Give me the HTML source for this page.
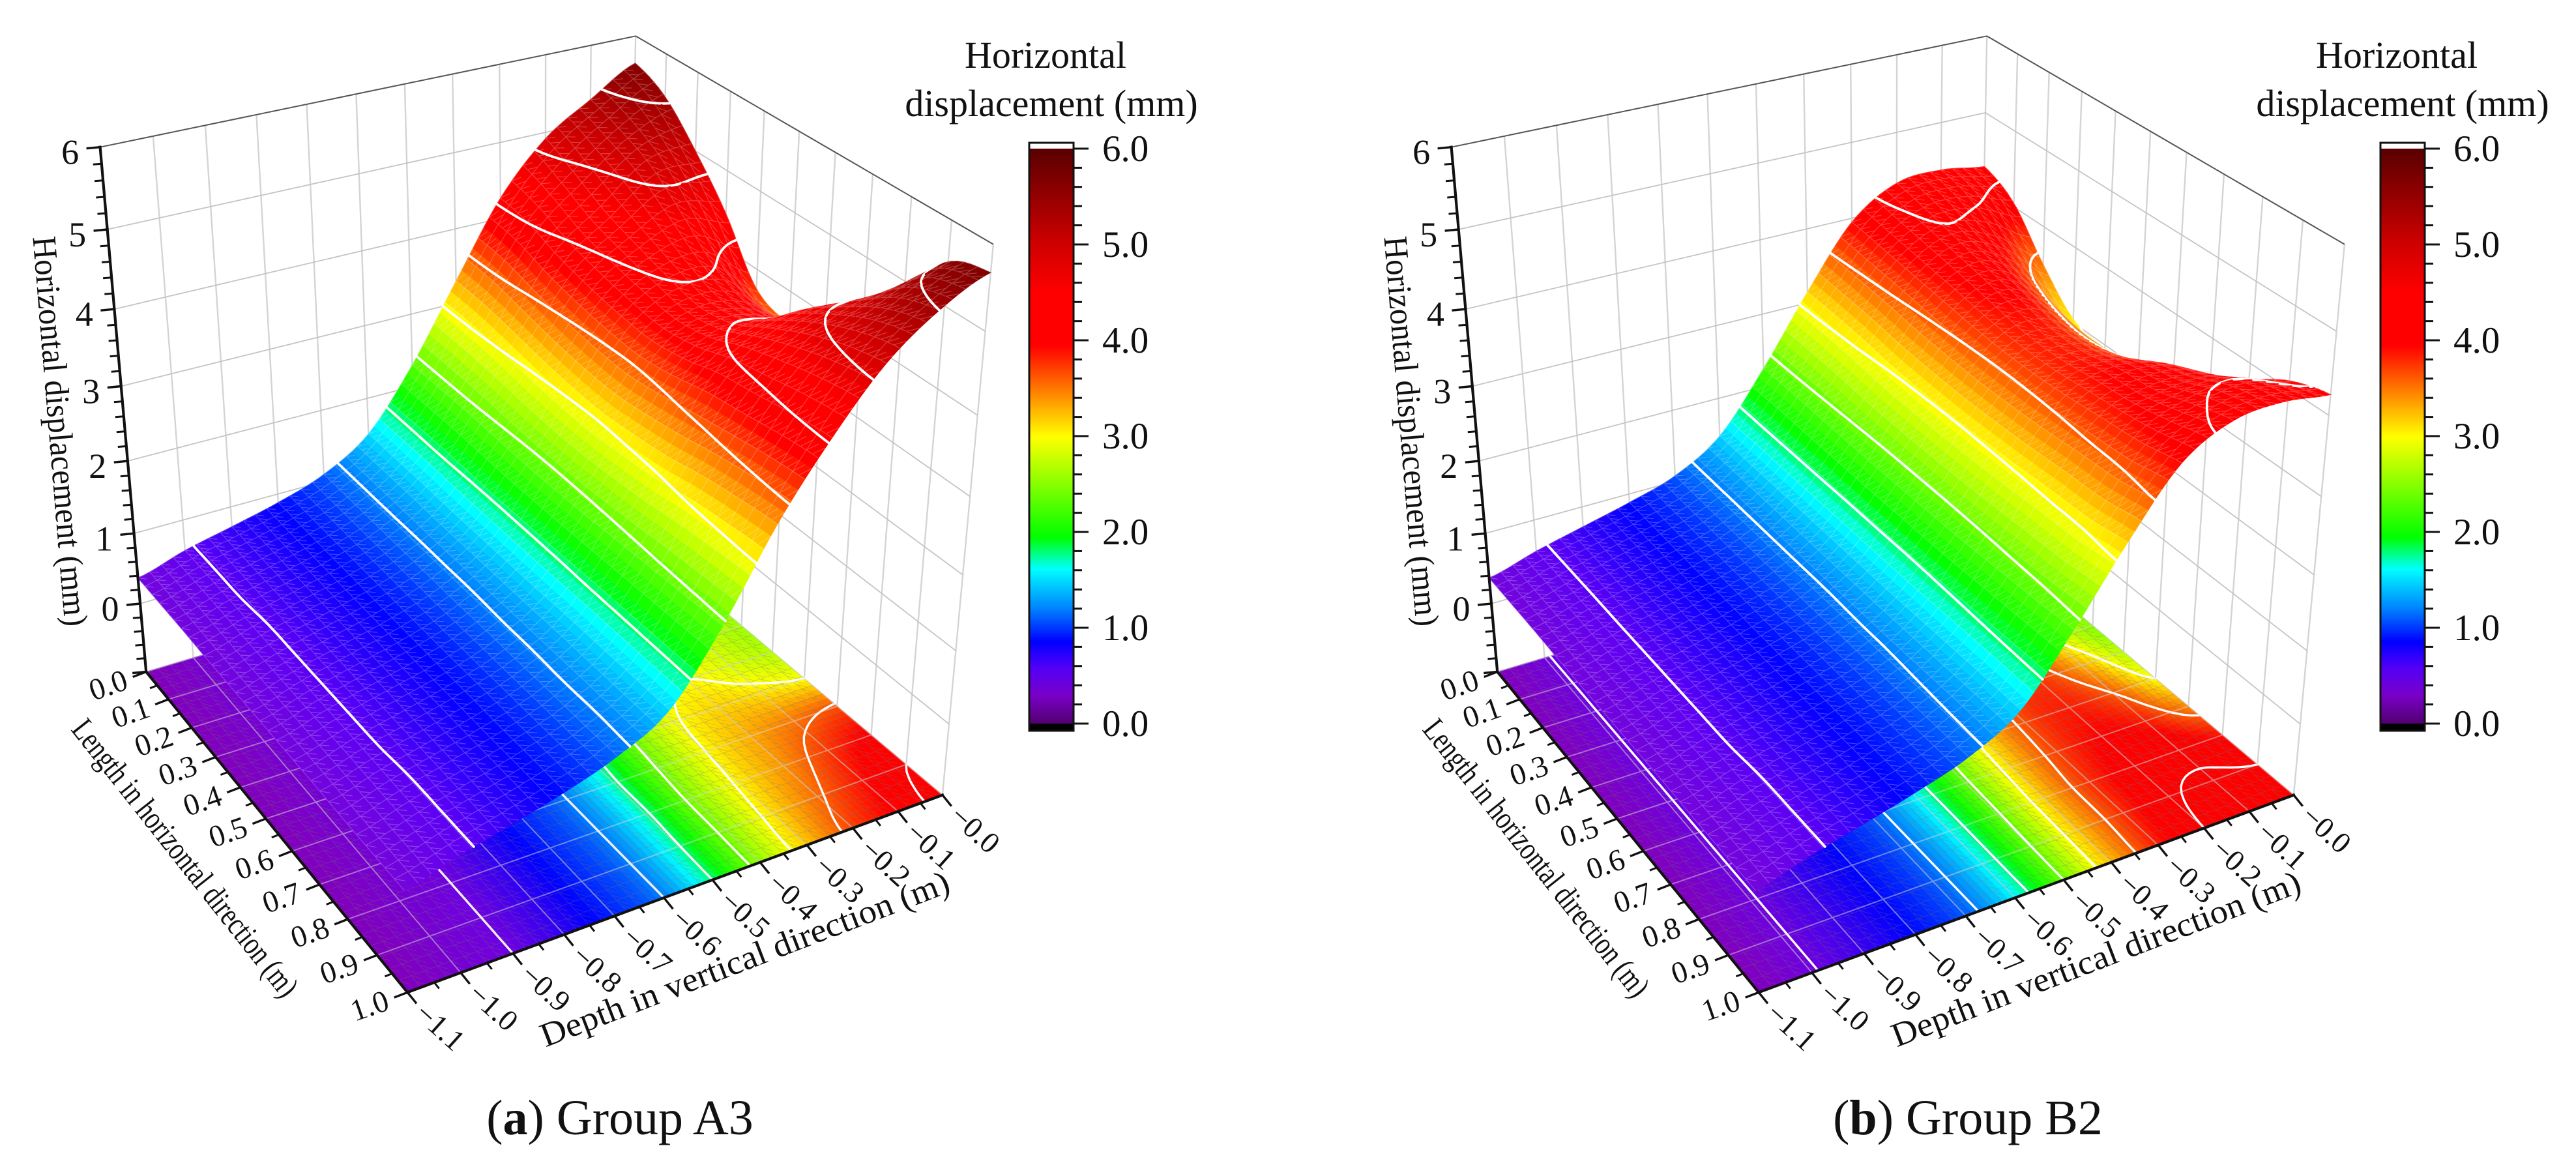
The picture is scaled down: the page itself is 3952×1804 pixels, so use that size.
<!DOCTYPE html>
<html>
<head>
<meta charset="utf-8">
<title>Horizontal displacement surfaces</title>
<style>
html,body{margin:0;padding:0;background:#fff;}
svg{display:block;}
text{font-family:"Liberation Serif",serif;fill:#111;}
</style>
</head>
<body>
<svg id="figure" xmlns="http://www.w3.org/2000/svg" width="3952" height="1804" viewBox="0 0 3952 1804">
  <rect width="3952" height="1804" fill="#fff"/>
  <g id="panelA">
    <text transform="translate(75,663) rotate(85.3)" text-anchor="middle" font-size="52" textLength="600" lengthAdjust="spacingAndGlyphs">Horizontal displacement (mm)</text>
    <text transform="translate(283,1317) rotate(51.7)" text-anchor="middle" font-size="50" textLength="527" lengthAdjust="spacingAndGlyphs" dy="15">Length in horizontal direction (m)</text>
    <text transform="translate(1143,1472) rotate(-21)" text-anchor="middle" font-size="52" textLength="668" lengthAdjust="spacingAndGlyphs" dy="16">Depth in vertical direction (m)</text>
    <text x="1604" y="104" text-anchor="middle" font-size="58">Horizontal</text>
    <text x="1613" y="178" text-anchor="middle" font-size="58">displacement (mm)</text>
    <text x="951" y="1740" text-anchor="middle" font-size="76">(<tspan font-weight="bold">a</tspan>) Group A3</text>
  </g>
  <g id="panelB" transform="translate(2073,0)">
    <text transform="translate(75,663) rotate(85.3)" text-anchor="middle" font-size="52" textLength="600" lengthAdjust="spacingAndGlyphs">Horizontal displacement (mm)</text>
    <text transform="translate(283,1317) rotate(51.7)" text-anchor="middle" font-size="50" textLength="527" lengthAdjust="spacingAndGlyphs" dy="15">Length in horizontal direction (m)</text>
    <text transform="translate(1143,1472) rotate(-21)" text-anchor="middle" font-size="52" textLength="668" lengthAdjust="spacingAndGlyphs" dy="16">Depth in vertical direction (m)</text>
    <text x="1604" y="104" text-anchor="middle" font-size="58">Horizontal</text>
    <text x="1613" y="178" text-anchor="middle" font-size="58">displacement (mm)</text>
    <text x="946" y="1740" text-anchor="middle" font-size="76">(<tspan font-weight="bold">b</tspan>) Group B2</text>
  </g>
</svg>
<script>
// Axis categories
const lengthTicks = [0,0.1,0.2,0.3,0.4,0.5,0.6,0.7,0.8,0.9,1.0];
const depthTicks = [-1.1,-1.0,-0.9,-0.8,-0.7,-0.6,-0.5,-0.4,-0.3,-0.2,-0.1,0];
const zTicks = [0,1,2,3,4,5,6];
const colorbarTicks = [0,1,2,3,4,5,6];
const contourLevels = [0.6,1.2,1.8,2.4,3.0,3.6,4.2,4.8,5.4];

// Surface heights (mm): one row per length tick, one column per depth tick
const surfaceA = [
[.37,.57,.72,.88,1.10,1.50,2.30,3.30,4.27,4.92,5.30,5.65],
[.37,.57,.72,.88,1.10,1.50,2.30,3.28,4.20,4.72,5.15,5.45],
[.37,.57,.72,.88,1.10,1.50,2.30,3.22,4.05,4.50,4.95,5.00],
[.36,.56,.72,.88,1.10,1.49,2.28,3.15,3.95,4.35,4.60,4.45],
[.36,.56,.72,.88,1.10,1.49,2.26,3.10,3.88,4.22,4.22,3.75],
[.36,.56,.72,.88,1.10,1.49,2.26,3.08,3.85,4.12,4.02,3.60],
[.36,.56,.72,.88,1.11,1.49,2.27,3.12,3.92,4.20,4.10,3.80],
[.36,.56,.72,.89,1.11,1.50,2.29,3.18,4.05,4.45,4.55,4.20],
[.35,.55,.72,.89,1.12,1.50,2.31,3.28,4.12,4.68,4.92,4.90],
[.35,.55,.72,.90,1.12,1.50,2.33,3.35,4.20,4.85,5.25,5.52],
[.35,.55,.72,.90,1.13,1.50,2.35,3.40,4.25,4.95,5.40,5.68]];
const floorA = [
[.33,.48,.60,.75,.95,1.20,1.70,2.30,2.75,2.85,2.75,2.60],
[.33,.48,.60,.75,.95,1.20,1.70,2.30,2.75,2.85,2.75,2.60],
[.33,.48,.60,.75,.95,1.20,1.70,2.30,2.75,2.85,2.75,2.60],
[.33,.48,.60,.75,.95,1.20,1.70,2.30,2.75,2.85,2.75,2.60],
[.33,.48,.60,.75,.95,1.20,1.70,2.30,2.80,2.95,2.80,2.60],
[.33,.48,.60,.75,.95,1.20,1.70,2.35,2.85,3.00,2.85,2.70],
[.33,.48,.60,.75,.95,1.20,1.70,2.40,2.95,3.15,3.10,3.00],
[.33,.48,.60,.75,.95,1.20,1.75,2.45,3.00,3.30,3.50,3.65],
[.33,.48,.60,.75,.95,1.20,1.75,2.50,3.05,3.40,3.75,4.00],
[.33,.48,.60,.75,.95,1.20,1.78,2.52,3.12,3.55,3.90,4.20],
[.33,.48,.60,.75,.95,1.20,1.80,2.55,3.20,3.70,4.00,4.30]];
const surfaceB = [
[.37,.56,.72,.88,1.08,1.47,2.25,3.15,3.95,4.33,4.37,4.28],
[.37,.56,.72,.88,1.08,1.47,2.25,3.13,3.90,4.25,4.25,4.05],
[.37,.56,.72,.88,1.08,1.47,2.24,3.10,3.85,4.15,3.95,3.50],
[.36,.56,.72,.88,1.08,1.47,2.23,3.05,3.80,4.05,3.70,3.05],
[.36,.56,.72,.88,1.08,1.47,2.22,3.03,3.75,3.95,3.55,2.95],
[.36,.56,.72,.88,1.08,1.47,2.22,3.02,3.72,3.85,3.50,3.00],
[.36,.56,.72,.88,1.09,1.47,2.22,3.03,3.72,3.85,3.60,3.20],
[.36,.56,.72,.89,1.09,1.48,2.23,3.05,3.75,3.95,3.85,3.50],
[.35,.55,.72,.89,1.10,1.49,2.25,3.08,3.80,4.00,4.02,3.80],
[.35,.55,.72,.90,1.11,1.50,2.27,3.10,3.85,4.15,4.25,4.10],
[.35,.55,.72,.90,1.12,1.50,2.30,3.18,3.95,4.28,4.33,4.25]];
const floorB = [
[.35,.58,.72,.88,1.10,1.60,2.25,3.00,3.55,3.40,2.90,2.60],
[.35,.58,.72,.88,1.10,1.60,2.25,3.00,3.55,3.40,2.90,2.60],
[.35,.58,.72,.88,1.10,1.60,2.25,3.00,3.55,3.40,2.90,2.60],
[.35,.58,.72,.88,1.10,1.60,2.25,3.00,3.55,3.40,2.90,2.60],
[.35,.58,.72,.88,1.10,1.60,2.25,3.00,3.60,3.60,3.00,2.50],
[.35,.58,.72,.88,1.10,1.60,2.28,3.05,3.65,3.75,3.30,2.70],
[.35,.58,.72,.88,1.10,1.60,2.30,3.10,3.68,3.85,3.60,3.00],
[.35,.58,.72,.88,1.10,1.60,2.33,3.15,3.72,3.95,3.85,3.45],
[.35,.58,.72,.88,1.10,1.60,2.35,3.20,3.78,4.05,4.10,3.90],
[.35,.58,.72,.88,1.10,1.60,2.38,3.22,3.80,4.15,4.25,4.20],
[.35,.58,.72,.88,1.10,1.60,2.40,3.25,3.85,4.20,4.35,4.40]];

// Colour scale stops (value, r, g, b)
const colorStops = [[0,80,0,110],[.3,120,6,215],[.6,92,0,244],[.86,0,0,255],[1.2,0,128,255],[1.62,0,255,255],[1.95,0,255,0],[3.0,255,255,0],[3.95,255,0,0],[4.5,255,0,0],[5.0,208,0,0],[6.0,90,0,0]];
const floorStops = [[0,80,0,110],[.3,132,0,184],[.6,110,0,225],[.86,0,0,255],[1.2,0,128,255],[1.62,0,255,255],[1.95,0,255,0],[3.0,255,255,0],[3.95,255,0,0],[4.5,255,0,0],[5.0,208,0,0],[6.0,90,0,0]];
const barStops = [[0,80,0,110],[.3,122,0,200],[.6,80,0,248],[.86,0,0,255],[1.2,0,128,255],[1.62,0,255,255],[1.95,0,255,0],[3.0,255,255,0],[3.95,255,0,0],[4.5,255,0,0],[5.0,208,0,0],[6.0,90,0,0]];

// Camera calibration: frame corners [length, depth, height] -> screen
const frameCorners = [
[0,-1.1,6,155,227],[0,0,6,973,53],[1,0,6,1525,376],
[0,-1.1,-1,223,1027],[0,0,-1,963,815],[1,0,-1,1445,1216],[1,-1.1,-1,625,1525]];

const ROWS = 64, COLS = 88, SVGNS = 'http://www.w3.org/2000/svg';
const zBottom = -1, zTop = 6;

function solve(A,b){
  const n=b.length;
  for(let i=0;i<n;i++){
    let p=i;
    for(let r=i+1;r<n;r++) if(Math.abs(A[r][i])>Math.abs(A[p][i])) p=r;
    [A[i],A[p]]=[A[p],A[i]];[b[i],b[p]]=[b[p],b[i]];
    for(let r=i+1;r<n;r++){
      const f=A[r][i]/A[i][i];
      for(let c=i;c<n;c++) A[r][c]-=f*A[i][c];
      b[r]-=f*b[i];
    }
  }
  const x=new Array(n).fill(0);
  for(let i=n-1;i>=0;i--){
    let s=b[i];
    for(let c=i+1;c<n;c++) s-=A[i][c]*x[c];
    x[i]=s/A[i][i];
  }
  return x;
}
function norm(L,D,z){return [L,(D+1.1)/1.1,(z+1)/7];}
const camera=(function(){
  const rows=[],rhs=[];
  frameCorners.forEach(function(c){
    const n=norm(c[0],c[1],c[2]),u=c[3]/1000,v=c[4]/1000;
    rows.push([n[0],n[1],n[2],1,0,0,0,0,-u*n[0],-u*n[1],-u*n[2]]);rhs.push(u);
    rows.push([0,0,0,0,n[0],n[1],n[2],1,-v*n[0],-v*n[1],-v*n[2]]);rhs.push(v);
  });
  const M=[],y=[];
  for(let i=0;i<11;i++){
    M.push(new Array(11).fill(0));y.push(0);
    for(let j=0;j<11;j++) rows.forEach(function(r){M[i][j]+=r[i]*r[j];});
    rows.forEach(function(r,k){y[i]+=r[i]*rhs[k];});
  }
  return solve(M,y);
})();
function project(L,D,z){
  const n=norm(L,D,z),p=camera;
  const w=p[8]*n[0]+p[9]*n[1]+p[10]*n[2]+1;
  return [1000*(p[0]*n[0]+p[1]*n[1]+p[2]*n[2]+p[3])/w,1000*(p[4]*n[0]+p[5]*n[1]+p[6]*n[2]+p[7])/w];
}
function color(v,s){
  if(v<=s[0][0]) return 'rgb('+s[0][1]+','+s[0][2]+','+s[0][3]+')';
  for(let i=1;i<s.length;i++){
    if(v<=s[i][0]){
      const t=(v-s[i-1][0])/(s[i][0]-s[i-1][0]);
      const c=[1,2,3].map(function(k){return Math.round(s[i-1][k]+t*(s[i][k]-s[i-1][k]));});
      return 'rgb('+c.join(',')+')';
    }
  }
  const e=s[s.length-1];
  return 'rgb('+e[1]+','+e[2]+','+e[3]+')';
}
function cr(a,b,c,d,t){return .5*(2*b+(c-a)*t+(2*a-5*b+4*c-d)*t*t+(3*b-a-3*c+d)*t*t*t);}
function pick(arr,i){return arr[Math.max(0,Math.min(arr.length-1,i))];}
function sampleRow(row,x){
  const i=Math.min(row.length-2,Math.floor(x)),t=x-i;
  return cr(pick(row,i-1),row[i],row[i+1],pick(row,i+2),t);
}
function sample(mat,lenFrac,depFrac){
  const x=depFrac*(mat[0].length-1),y=lenFrac*(mat.length-1);
  const i=Math.min(mat.length-2,Math.floor(y)),t=y-i;
  return cr(sampleRow(pick(mat,i-1),x),sampleRow(mat[i],x),sampleRow(mat[i+1],x),sampleRow(pick(mat,i+2),x),t);
}
function gridOf(mat){
  const g=[];
  for(let r=0;r<=ROWS;r++){
    const line=[];
    for(let c=0;c<=COLS;c++) line.push(sample(mat,r/ROWS,c/COLS));
    g.push(line);
  }
  return g;
}
function lenAt(r){return r/ROWS;}
function depAt(c){return -1.1+1.1*c/COLS;}
function f1(v){return v.toFixed(1);}
function seg(a,b){return 'M'+f1(a[0])+' '+f1(a[1])+'L'+f1(b[0])+' '+f1(b[1]);}
function add(parent,tag,attrs){
  const e=document.createElementNS(SVGNS,tag);
  for(const k in attrs) e.setAttribute(k,attrs[k]);
  parent.appendChild(e);
  return e;
}

function contourPath(grid,r,zFn){
  let d='';
  for(let c=0;c<COLS;c++){
    const v=[grid[r][c],grid[r][c+1],grid[r+1][c+1],grid[r+1][c]];
    const pts=[[r,c],[r,c+1],[r+1,c+1],[r+1,c]];
    contourLevels.forEach(function(level){
      const cross=[];
      for(let e=0;e<4;e++){
        const a=v[e],b=v[(e+1)%4];
        if((a<level)!==(b<level)){
          const t=(level-a)/(b-a),p=pts[e],q=pts[(e+1)%4];
          cross.push(project(lenAt(p[0]+t*(q[0]-p[0])),depAt(p[1]+t*(q[1]-p[1])),zFn(level)));
        }
      }
      if(cross.length>=2) d+=seg(cross[0],cross[1]);
      if(cross.length===4) d+=seg(cross[2],cross[3]);
    });
  }
  return d;
}
function meshPath(r,point){
  let d='';
  for(let c=0;c<=COLS;c+=2){
    d+=seg(point(r,c),point(r+1,c));
    if(c<COLS && (c+r)%2===0) d+=seg(point(r,c),point(r+1,c+1));
    if(c>0 && (c+r)%2===1) d+=seg(point(r,c),point(r+1,c+1<=COLS?c+1:c));
  }
  if(r%2===0) for(let c=0;c<COLS;c++) d+=seg(point(r,c),point(r,c+1));
  return d;
}

function drawWalls(g){
  let vertical='',horizontal='';
  depthTicks.forEach(function(D){vertical+=seg(project(0,D,zBottom),project(0,D,zTop));});
  lengthTicks.forEach(function(L){vertical+=seg(project(L,0,zBottom),project(L,0,zTop));});
  zTicks.slice(0,-1).forEach(function(z){
    horizontal+=seg(project(0,-1.1,z),project(0,0,z));
    horizontal+=seg(project(0,0,z),project(1,0,z));
  });
  const v=add(g,'path',{d:vertical,stroke:'#d4d4d4','stroke-width':2.4,fill:'none'});
  
  
  const h=add(g,'path',{d:horizontal,stroke:'#c4c4c4','stroke-width':1.8,fill:'none'});
  
  
  const top=add(g,'path',{d:seg(project(0,-1.1,zTop),project(0,0,zTop))+seg(project(0,0,zTop),project(1,0,zTop)),stroke:'#555','stroke-width':2,fill:'none'});
  
  
}
function drawFloor(g,mat){
  const layer=add(g,'g',{});
  
  
  const grid=gridOf(mat);
  const pt=function(r,c){return project(lenAt(r),depAt(c),zBottom);};
  for(let r=0;r<ROWS;r++){
    for(let c=COLS-1;c>=0;c--){
      const col=color((grid[r][c]+grid[r+1][c]+grid[r][c+1]+grid[r+1][c+1])/4,floorStops);
      const a=pt(r,c),b=pt(r,c+1),e=pt(r+1,c+1),f=pt(r+1,c);
      const cell=add(layer,'polygon',{points:[a,b,e,f].map(function(q){return f1(q[0])+','+f1(q[1]);}).join(' '),fill:col,stroke:col,'stroke-width':1});
      
      
    }
  }
  let mesh='',lines='';
  for(let r=0;r<ROWS;r++){mesh+=meshPath(r,pt);lines+=contourPath(grid,r,function(){return zBottom;});}
  const m=add(layer,'path',{d:mesh,stroke:'#777','stroke-opacity':.3,'stroke-width':1,fill:'none'});
  
  
  const fl=add(layer,'path',{d:lines,stroke:'#fff','stroke-width':3.4,fill:'none','stroke-linecap':'round'});
  
  
  let gridD='';
  depthTicks.forEach(function(D){gridD+=seg(project(0,D,zBottom),project(1,D,zBottom));});
  lengthTicks.forEach(function(L){gridD+=seg(project(L,-1.1,zBottom),project(L,0,zBottom));});
  const gl=add(layer,'path',{d:gridD,stroke:'#d8d8d8','stroke-opacity':.5,'stroke-width':2,fill:'none'});
  
  
}
function drawSurface(g,mat){
  const layer=add(g,'g',{});
  
  
  const grid=gridOf(mat);
  const pt=function(r,c){return project(lenAt(r),depAt(c),grid[r][c]);};
  for(let r=0;r<ROWS;r++){
    for(let c=COLS-1;c>=0;c--){
      const col=color((grid[r][c]+grid[r+1][c]+grid[r][c+1]+grid[r+1][c+1])/4,colorStops);
      const a=pt(r,c),b=pt(r,c+1),e=pt(r+1,c+1),f=pt(r+1,c);
      const cell=add(layer,'polygon',{points:[a,b,e,f].map(function(q){return f1(q[0])+','+f1(q[1]);}).join(' '),fill:col,stroke:col,'stroke-width':1});
      
      
    }
    const m=add(layer,'path',{d:meshPath(r,pt),stroke:'#fff','stroke-opacity':.24,'stroke-width':1.2,fill:'none'});
    
    
    const d=contourPath(grid,r,function(l){return l;});
    if(d){
      const cl=add(layer,'path',{d:d,stroke:'#fff','stroke-width':3.8,fill:'none','stroke-linecap':'round'});
      
      
    }
  }
}
function drawAxes(g){
  let axis=seg(project(0,-1.1,zBottom),project(0,-1.1,zTop))+seg(project(0,-1.1,zBottom),project(1,-1.1,zBottom))+seg(project(1,-1.1,zBottom),project(1,0,zBottom));
  let major='',minor='';
  for(let i=0;i<=35;i++){
    const z=zBottom+i*0.2,p=project(0,-1.1,z),isMajor=i%5===0;
    const q=[p[0]-(isMajor?21:13),p[1]+(isMajor?2:1)];
    if(isMajor) major+=seg(p,q); else minor+=seg(p,q);
  }
  for(let i=0;i<=20;i++){
    const p=project(i/20,-1.1,zBottom),isMajor=i%2===0;
    const k=isMajor?22:12,q=[p[0]-k*.93,p[1]+k*.36];
    if(isMajor) major+=seg(p,q); else minor+=seg(p,q);
  }
  for(let i=0;i<=22;i++){
    const p=project(1,-1.1+i*0.05,zBottom),isMajor=i%2===0;
    const k=isMajor?22:12,q=[p[0]+k*.63,p[1]+k*.78];
    if(isMajor) major+=seg(p,q); else minor+=seg(p,q);
  }
  const a=add(g,'path',{d:axis,stroke:'#111','stroke-width':4.2,fill:'none','stroke-linecap':'square'});
  
  
  const mj=add(g,'path',{d:major,stroke:'#111','stroke-width':3.4,fill:'none'});
  
  
  const mn=add(g,'path',{d:minor,stroke:'#111','stroke-width':3,fill:'none'});
  
  
  zTicks.forEach(function(z){
    const p=project(0,-1.1,z);
    const t=add(g,'text',{x:f1(p[0]-46),y:f1(p[1]+26),'font-size':54,'text-anchor':'middle'});
    t.textContent=String(z);
    
    
  });
  lengthTicks.forEach(function(L){
    const p=project(L,-1.1,zBottom);
    const t=add(g,'text',{transform:'translate('+f1(p[0]-58)+','+f1(p[1]+21)+') rotate(-19)','font-size':47,'text-anchor':'middle',dy:15});
    t.textContent=L.toFixed(1);
    
    
  });
  depthTicks.forEach(function(D){
    const p=project(1,D,zBottom);
    const t=add(g,'text',{transform:'translate('+f1(p[0]+50)+','+f1(p[1]+53)+') rotate(42)','font-size':46,'text-anchor':'middle',dy:15});
    t.textContent='\u2212'+Math.abs(D).toFixed(1);
    
    
  });
}
function barY(v){return 1110-(v/6)*882;}
function drawColorbar(g){
  const cb=add(g,'g',{});
  
  
  for(let i=0;i<240;i++){
    const v=6*i/240;
    const s=add(cb,'rect',{x:1579,y:f1(barY(v+6/240)),width:68,height:f1(882/240+1),fill:color(v+3/240,barStops)});
    
    
  }
  const under=add(cb,'rect',{x:1579,y:1110,width:68,height:11,fill:'#000'});
  
  
  const over=add(cb,'rect',{x:1579,y:219,width:68,height:9,fill:'#fff'});
  
  
  const o=add(cb,'rect',{x:1579,y:219,width:68,height:902,fill:'none',stroke:'#111','stroke-width':3});
  
  
  let major='',minor='';
  for(let i=0;i<=30;i++){
    const y=barY(i*0.2);
    if(i%5===0) major+=seg([1647,y],[1670,y]); else minor+=seg([1647,y],[1660,y]);
  }
  const tk=add(cb,'path',{d:major+minor,stroke:'#111','stroke-width':3,fill:'none'});
  
  
  colorbarTicks.forEach(function(v){
    const t=add(cb,'text',{x:1691,y:f1(barY(v)+19),'font-size':57});
    t.textContent=v.toFixed(1);
    
    
  });
}
function buildPanel(id,surface,floor){
  const host=document.getElementById(id);
  const g=document.createElementNS(SVGNS,'g');
  
  
  host.insertBefore(g,host.firstChild);
  drawWalls(g);
  drawFloor(g,floor);
  drawSurface(g,surface);
  drawAxes(g);
  drawColorbar(g);
}
buildPanel('panelA',surfaceA,floorA);
buildPanel('panelB',surfaceB,floorB);
</script>
</body>
</html>
